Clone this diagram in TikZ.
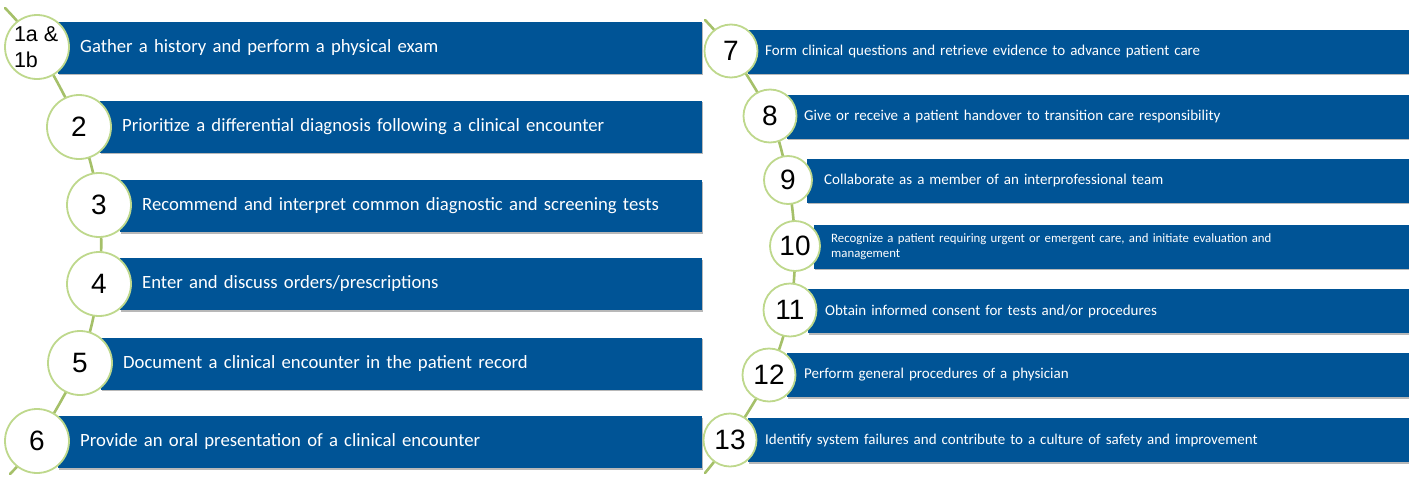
\documentclass[tikz,border=0pt]{standalone}
\usepackage{fontspec}
\setmainfont{Carlito}
\newfontfamily\numfont{Liberation Sans}
\usetikzlibrary{backgrounds}
\definecolor{barblue}{RGB}{0,84,150}
\definecolor{ringgreen}{RGB}{190,216,140}
\definecolor{stemgreen}{RGB}{165,192,105}
\begin{document}
\begin{tikzpicture}[x=1pt,y=-1pt]
\useasboundingbox (0,0) rectangle (1409,477);
\tikzset{
  barshade/.style={preaction={fill=black!28, transform canvas={shift={(1.2pt,-1.8pt)}}}},
  leftbar/.style={barshade, fill=barblue, text=white, anchor=west, minimum height=52pt,
    inner xsep=22pt, inner ysep=0pt, align=left, font=\fontsize{18.7}{22}\selectfont},
  rightbar/.style={barshade, fill=barblue, text=white, anchor=west, minimum height=44pt,
    inner xsep=17pt, inner ysep=0pt, align=left, font=\fontsize{15}{17}\selectfont},
  disc/.style={circle, draw=ringgreen, line width=1.8pt, fill=white, inner sep=0pt,
    font=\numfont\fontsize{28}{28}\selectfont},
  bigdisc/.style={disc, minimum size=64pt},
  smalldisc/.style={disc, minimum size=53pt},
  stem/.style={draw=stemgreen, line width=2.6pt, line cap=round}
}

% left column: bars
\node[leftbar, text width=600pt] (b1) at (58,47.5) {Gather a history and perform a physical exam};
\node[leftbar, text width=558pt] (b2) at (100,126.5) {Prioritize a differential diagnosis following a clinical encounter};
\node[leftbar, text width=538pt] (b3) at (120,206) {Recommend and interpret common diagnostic and screening tests};
\node[leftbar, text width=538pt] (b4) at (120,284) {Enter and discuss orders/prescriptions};
\node[leftbar, text width=557pt] (b5) at (101,363.5) {Document a clinical encounter in the patient record};
\node[leftbar, text width=600pt] (b6) at (58,442) {Provide an oral presentation of a clinical encounter};

% right column: bars
\node[rightbar, text width=630pt] (b7) at (748,51.5) {Form clinical questions and retrieve evidence to advance patient care};
\node[rightbar, text width=591pt] (b8) at (787,116.5) {Give or receive a patient handover to transition care responsibility};
\node[rightbar, text width=571pt] (b9) at (807,180.5) {Collaborate as a member of an interprofessional team};
\node[rightbar, text width=564pt, font=\fontsize{12.8}{15.5}\selectfont] (b10) at (814,246.5) {Recognize a patient requiring urgent or emergent care, and initiate evaluation and\\management};
\node[rightbar, text width=570pt] (b11) at (808,311) {Obtain informed consent for tests and/or procedures};
\node[rightbar, text width=591pt] (b12) at (787,375) {Perform general procedures of a physician};
\node[rightbar, text width=630pt] (b13) at (748,440) {Identify system failures and contribute to a culture of safety and improvement};

% numbered discs
\node[bigdisc, align=left, font=\numfont\fontsize{21.5}{26}\selectfont] (c1) at (37,47) {\raisebox{-6pt}{\parbox{46pt}{1a \&\\1b}}};
\node[bigdisc] (c2) at (79,127) {2};
\node[bigdisc] (c3) at (99,205) {3};
\node[bigdisc] (c4) at (99,284) {4};
\node[bigdisc] (c5) at (80,363) {5};
\node[bigdisc] (c6) at (37,441) {6};

\node[smalldisc] (c7) at (731,51) {7};
\node[smalldisc] (c8) at (770,116) {8};
\node[smalldisc, minimum size=48pt] (c9) at (788,180) {9};
\node[smalldisc, minimum size=50pt] (c10) at (795,246) {10};
\node[smalldisc] (c11) at (790,310) {11};
\node[smalldisc] (c12) at (769,375) {12};
\node[smalldisc] (c13) at (730,440) {13};

% stems threading the discs
\coordinate (ltop) at (5,8);
\coordinate (lbot) at (10,474);
\coordinate (rtop) at (705,20);
\coordinate (rbot) at (705,473);
\begin{pgfonlayer}{background}
  \draw[stem] plot[smooth, tension=0.55] coordinates {(ltop) (c1.center) (c2.center) (c3.center) (c4.center) (c5.center) (c6.center) (lbot)};
  \draw[stem] plot[smooth, tension=0.55] coordinates {(rtop) (c7.center) (c8.center) (c9.center) (c10.center) (c11.center) (c12.center) (c13.center) (rbot)};
\end{pgfonlayer}
\end{tikzpicture}
\end{document}
